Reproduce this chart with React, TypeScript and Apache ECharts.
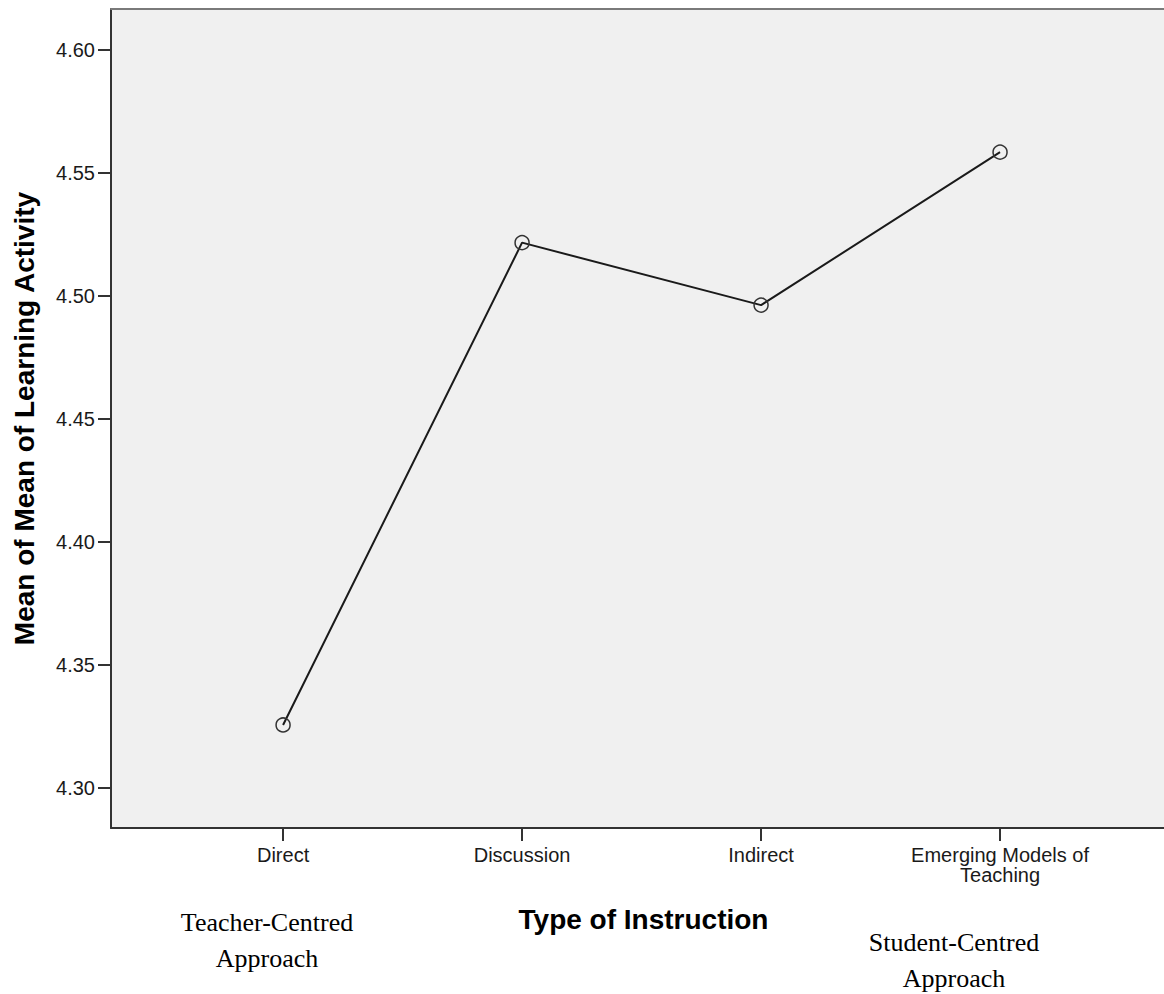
import React, { useEffect, useRef } from "react";
import * as echarts from "echarts";

const categories = ["Direct", "Discussion", "Indirect", "Emerging Models of\nTeaching"];
const meanValues = [4.3256, 4.5217, 4.4963, 4.5585];
const yTickValues = [4.3, 4.35, 4.4, 4.45, 4.5, 4.55, 4.6];
const yMin = 4.2837;
const yMax = 4.6167;
const xMin = -0.72;
const xMax = 3.686;
const yAxisTitle = "Mean of Mean of Learning Activity";
const xAxisTitle = "Type of Instruction";
const leftNote = "Teacher-Centred\nApproach";
const rightNote = "Student-Centred\nApproach";

export default function App() {
  const ref = useRef<HTMLDivElement>(null);
  useEffect(() => {
    if (!ref.current) return;
    const chart = echarts.init(ref.current, null, { renderer: "svg" });
    const catIdx = categories.map((_, i) => i);
    const sans = "'Liberation Sans', Arial, sans-serif";
    chart.setOption({
      animation: false,
      backgroundColor: "#ffffff",
      grid: {
        left: 111,
        top: 9,
        right: 0,
        bottom: 166,
        show: true,
        backgroundColor: "#f0f0f0",
        borderWidth: 0,
      },
      xAxis: [
        {
          type: "value",
          min: xMin,
          max: xMax,
          position: "bottom",
          splitLine: { show: false },
          axisLine: { show: true, onZero: false, lineStyle: { color: "#333333", width: 2 } },
          axisTick: {
            show: true,
            customValues: catIdx,
            length: 13,
            lineStyle: { color: "#333333", width: 2 },
          },
          axisLabel: {
            customValues: catIdx,
            formatter: (v: number) => categories[Math.round(v)] ?? "",
            fontFamily: sans,
            fontSize: 20,
            lineHeight: 20,
            color: "#1a1a1a",
            margin: 17,
            align: "center",
          },
          name: xAxisTitle,
          nameLocation: "middle",
          nameGap: 77,
          nameTextStyle: {
            fontFamily: sans,
            fontSize: 28,
            fontWeight: "bold",
            color: "#000000",
            padding: [0, 0, 0, 12],
          },
        },
        {
          type: "value",
          min: xMin,
          max: xMax,
          position: "top",
          splitLine: { show: false },
          axisLine: { show: true, onZero: false, lineStyle: { color: "#7a7a7a", width: 2 } },
          axisTick: { show: false },
          axisLabel: { show: false },
        },
      ],
      yAxis: {
        type: "value",
        min: yMin,
        max: yMax,
        position: "left",
        splitLine: { show: false },
        axisLine: { show: true, onZero: false, lineStyle: { color: "#333333", width: 2 } },
        axisTick: {
          show: true,
          customValues: yTickValues,
          length: 13,
          lineStyle: { color: "#333333", width: 2 },
        },
        axisLabel: {
          customValues: yTickValues,
          formatter: (v: number) => v.toFixed(2),
          fontFamily: sans,
          fontSize: 20,
          color: "#1a1a1a",
          margin: 16,
        },
        name: yAxisTitle,
        nameLocation: "middle",
        nameGap: 73,
        nameTextStyle: {
          fontFamily: sans,
          fontSize: 28,
          fontWeight: "bold",
          color: "#000000",
        },
      },
      series: [
        {
          type: "line",
          xAxisIndex: 0,
          data: meanValues.map((v, i) => [i, v]),
          symbol: "circle",
          symbolSize: 14,
          showSymbol: true,
          lineStyle: { color: "#1a1a1a", width: 2 },
          itemStyle: { color: "rgba(0,0,0,0)", borderColor: "#333333", borderWidth: 1.5 },
          emphasis: { disabled: true },
        },
      ],
      graphic: [
        {
          type: "text",
          x: 267,
          y: 904,
          style: {
            text: leftNote,
            fontFamily: "'Liberation Serif', 'Times New Roman', serif",
            fontSize: 26,
            lineHeight: 36,
            align: "center",
            verticalAlign: "top",
            fill: "#000000",
          },
        },
        {
          type: "text",
          x: 954,
          y: 924,
          style: {
            text: rightNote,
            fontFamily: "'Liberation Serif', 'Times New Roman', serif",
            fontSize: 26,
            lineHeight: 36,
            align: "center",
            verticalAlign: "top",
            fill: "#000000",
          },
        },
      ],
    });
    return () => chart.dispose();
  }, []);
  return (
    <div
      ref={ref}
      style={{ position: "absolute", left: 0, top: 0, width: 1164, height: 994 }}
    />
  );
}
